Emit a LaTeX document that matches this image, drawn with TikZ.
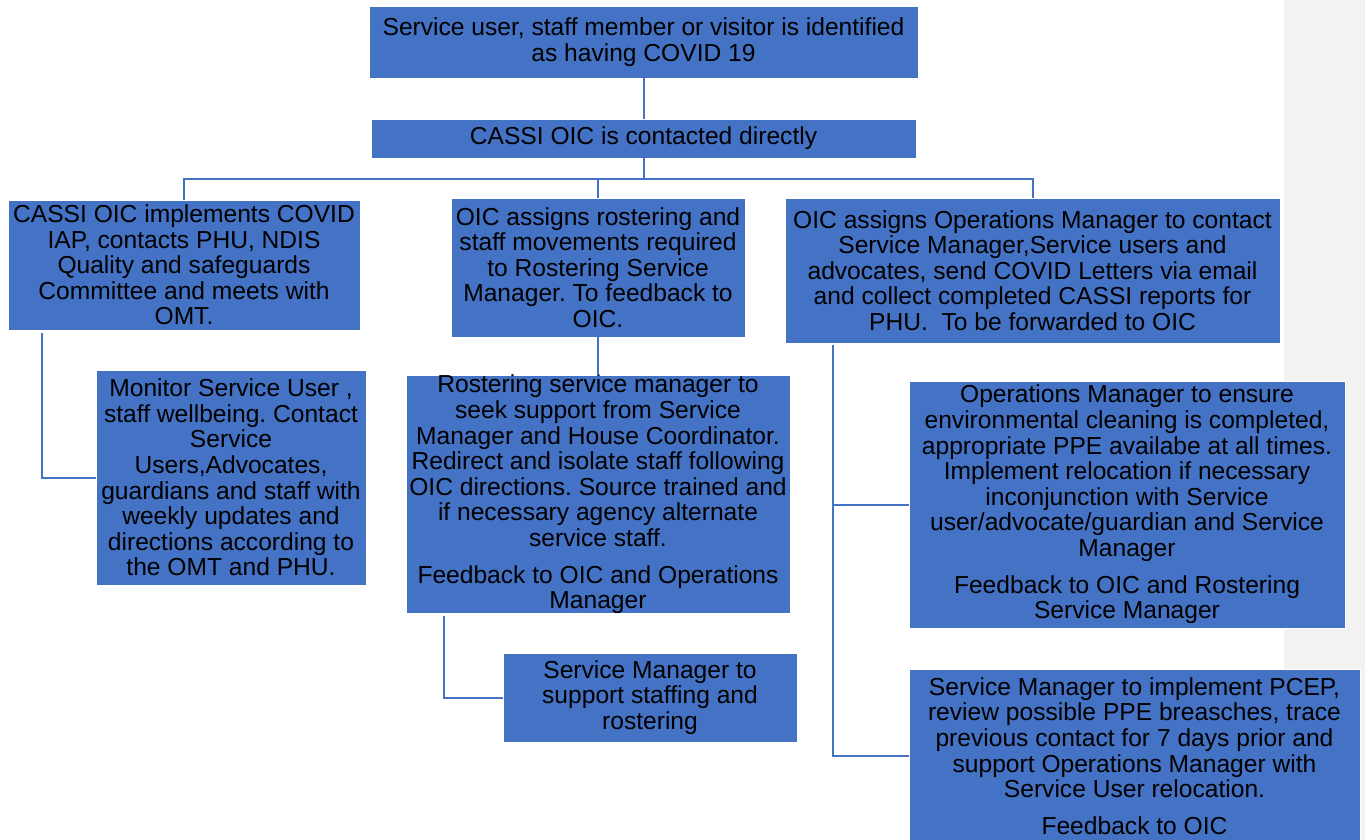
\documentclass[tikz,border=0pt]{standalone}
\usepackage{fontspec}
\setmainfont{Liberation Sans}
\usepackage{xcolor}
\usetikzlibrary{calc}
\definecolor{qbox}{RGB}{68,114,196}
\definecolor{qgrey}{RGB}{242,242,242}
\frenchspacing

\begin{document}
\begin{tikzpicture}[x=1pt,y=-1pt,
  box/.style={draw=white,line width=0.8pt,fill=qbox,inner sep=0pt,align=center,
    font=\fontsize{24.6}{25.6}\selectfont},
  link/.style={draw=qbox,line width=2pt}]

\useasboundingbox (0,0) rectangle (1365,840);
\clip (0,0) rectangle (1365,840);
%grey margin:
\fill[qgrey] (1284,0) rectangle (1365,840);

%top of the chart
\node[box,minimum width=549,minimum height=72] (ID) at (643.5,42)
  {Service user, staff member or visitor is identified\\as having COVID 19};
\node[box,minimum width=545,minimum height=39] (OIC) at (643.5,138.5)
  {CASSI OIC is contacted directly};

%second row
\node[box,minimum width=352,minimum height=130] (IMPL) at (184,265)
  {CASSI OIC implements COVID\\IAP, contacts PHU, NDIS\\Quality and safeguards\\Committee and meets with\\OMT.};
\node[box,minimum width=294,minimum height=139] (ROST) at (598,267.5)
  {OIC assigns rostering and\\staff movements required\\to Rostering Service\\Manager. To feedback to\\OIC.};
\node[box,minimum width=495,minimum height=145] (OPS) at (1032.5,270.5)
  {OIC assigns Operations Manager to contact\\Service Manager,Service users and\\advocates, send COVID Letters via email\\and collect completed CASSI reports for\\PHU.\ \ To be forwarded to OIC};

%third row
\node[box,minimum width=270,minimum height=215] (MON) at (231,477.5)
  {Monitor Service User ,\\staff wellbeing. Contact\\Service\\Users,Advocates,\\guardians and staff with\\weekly updates and\\directions according to\\the OMT and PHU.};
\node[box,minimum width=384,minimum height=235] (RSM) at (598,494.5)
  {Rostering service manager to\\seek support from Service\\Manager and House Coordinator.\\Redirect and isolate staff following\\OIC directions. Source trained and\\if necessary agency alternate\\service staff.\\[11pt]Feedback to OIC and Operations\\Manager};
\node[box,minimum width=436,minimum height=247] (CLEAN) at (1127,504.5)
  {Operations Manager to ensure\\environmental cleaning is completed,\\appropriate PPE availabe at all times.\\Implement relocation if necessary\\inconjunction with Service\\user/advocate/guardian and Service\\Manager\\[11pt]Feedback to OIC and Rostering\\Service Manager};

%bottom row
\node[box,minimum width=294,minimum height=89] (SMS) at (650,697.5)
  {Service Manager to\\support staffing and\\rostering};
\node[box,minimum width=451,minimum height=174] (PCEP) at (1134.5,756)
  {Service Manager to implement PCEP,\\review possible PPE breasches, trace\\previous contact for 7 days prior and\\support Operations Manager with\\Service User relocation.\\[11pt]Feedback to OIC};

%connectors
\coordinate (bus) at (0,179);
\draw[link] (ID) -- (OIC);
\draw[link] (OIC.south) -- (OIC.south |- bus);
\draw[link] (IMPL.north) |- (OPS.north |- bus) -- (OPS.north);
\draw[link] (ROST.north) -- (ROST.north |- bus);

\coordinate (L) at ($(IMPL.south west)+(34,3)$);
\draw[link] (L) |- (MON.west);

\draw[link] (ROST) -- (RSM);
\coordinate (M) at ($(RSM.south west)+(38,2)$);
\draw[link] (M) |- (SMS.west);

\coordinate (R) at ($(OPS.south west)+(48,2)$);
\draw[link] (R) |- (PCEP.west);
\draw[link] (R |- CLEAN.west) -- (CLEAN.west);

\end{tikzpicture}
\end{document}
